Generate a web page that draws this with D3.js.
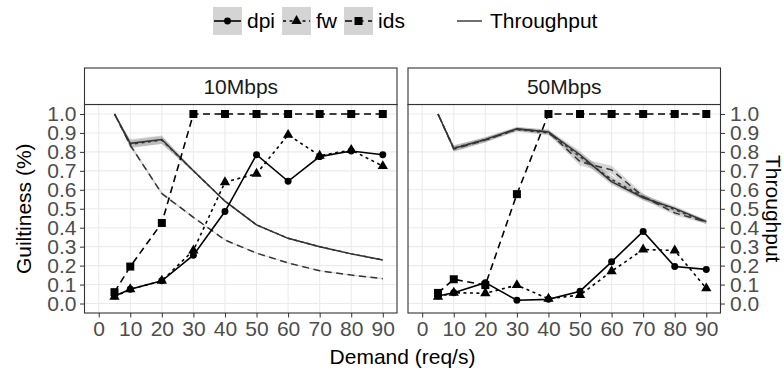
<!DOCTYPE html>
<html>
<head>
<meta charset="utf-8">
<script src="https://cdn.jsdelivr.net/npm/d3@7/dist/d3.min.js"></script>
<style>
  body { margin: 0; background: #fff; }
  text { font-family: "Liberation Sans", Arial, Helvetica, sans-serif; }
</style>
</head>
<body>
<svg id="chart" width="784" height="372"></svg>
<script>
// ---- data ----
const demand = [5, 10, 20, 30, 40, 50, 60, 70, 80, 90];
const xTicks = [0, 10, 20, 30, 40, 50, 60, 70, 80, 90];
const yTicks = [0, 0.1, 0.2, 0.3, 0.4, 0.5, 0.6, 0.7, 0.8, 0.9, 1.0];
const yTickLabels = ["0.0", "0.1", "0.2", "0.3", "0.4", "0.5", "0.6", "0.7", "0.8", "0.9", "1.0"];
const bandwidths = ["10Mbps", "50Mbps"];
const methods = ["dpi", "fw", "ids"];

// guiltiness per method (left axis)
const guilt10Dpi = [0.04, 0.075, 0.12, 0.255, 0.485, 0.785, 0.645, 0.775, 0.805, 0.785];
const guilt10Fw  = [0.035, 0.075, 0.12, 0.28, 0.64, 0.685, 0.89, 0.78, 0.81, 0.725];
const guilt10Ids = [0.06, 0.195, 0.425, 1, 1, 1, 1, 1, 1, 1];
const guilt50Dpi = [0.04, 0.057, 0.11, 0.017, 0.022, 0.065, 0.22, 0.38, 0.195, 0.18];
const guilt50Fw  = [0.035, 0.057, 0.054, 0.097, 0.025, 0.045, 0.17, 0.285, 0.28, 0.08];
const guilt50Ids = [0.056, 0.128, 0.097, 0.577, 1, 1, 1, 1, 1, 1];

// throughput per method (right axis) and its spread
const tput10Dpi = [1.0, 0.845, 0.865, 0.70, 0.54, 0.415, 0.344, 0.30, 0.262, 0.23];
const tput10Fw  = [1.0, 0.84, 0.862, 0.70, 0.54, 0.415, 0.344, 0.30, 0.262, 0.23];
const tput10Ids = [1.0, 0.835, 0.58, 0.455, 0.335, 0.266, 0.214, 0.173, 0.15, 0.131];
const tput50Dpi = [1.0, 0.818, 0.866, 0.922, 0.905, 0.785, 0.643, 0.558, 0.502, 0.432];
const tput50Fw  = [1.0, 0.82, 0.864, 0.918, 0.9, 0.775, 0.655, 0.563, 0.495, 0.43];
const tput50Ids = [1.0, 0.815, 0.862, 0.92, 0.905, 0.748, 0.705, 0.565, 0.478, 0.43];
const spread10Dpi = [0, 0.022, 0.022, 0.006, 0.004, 0.003, 0.003, 0.003, 0.003, 0.003];
const spread10Fw  = [0, 0.02, 0.02, 0.006, 0.004, 0.003, 0.003, 0.003, 0.003, 0.003];
const spread10Ids = [0, 0.01, 0.008, 0.004, 0.003, 0.003, 0.003, 0.003, 0.003, 0.003];
const spread50Dpi = [0, 0.016, 0.012, 0.01, 0.012, 0.02, 0.018, 0.014, 0.012, 0.01];
const spread50Fw  = [0, 0.015, 0.012, 0.01, 0.012, 0.02, 0.02, 0.015, 0.012, 0.01];
const spread50Ids = [0, 0.014, 0.012, 0.01, 0.012, 0.02, 0.022, 0.016, 0.012, 0.01];

const guiltiness = {
  "10Mbps": { dpi: guilt10Dpi, fw: guilt10Fw, ids: guilt10Ids },
  "50Mbps": { dpi: guilt50Dpi, fw: guilt50Fw, ids: guilt50Ids }
};
const throughput = {
  "10Mbps": { dpi: tput10Dpi, fw: tput10Fw, ids: tput10Ids },
  "50Mbps": { dpi: tput50Dpi, fw: tput50Fw, ids: tput50Ids }
};
const spread = {
  "10Mbps": { dpi: spread10Dpi, fw: spread10Fw, ids: spread10Ids },
  "50Mbps": { dpi: spread50Dpi, fw: spread50Fw, ids: spread50Ids }
};

// ---- styling ----
const FONT = 21;
const dashFor = { dpi: null, fw: "3,3.5", ids: "7,4.5" };
const symbolFor = { dpi: d3.symbolCircle, fw: d3.symbolTriangle, ids: d3.symbolSquare };
const symbolSize = { dpi: 38, fw: 46, ids: 64 };

// ---- layout ----
const panelLeft = [84.5, 408];
const panelW = 312.5;
const stripTop = 68, panelTop = 104.5, panelBottom = 313;
const panelH = panelBottom - panelTop;

const x = d3.scaleLinear().domain([-4.5, 94.5]).range([0, panelW]);
const y = d3.scaleLinear().domain([-0.05, 1.05]).range([panelH, 0]);

const svg = d3.select("#chart");
svg.append("rect").attr("width", 784).attr("height", 372).attr("fill", "#fff");

function styleAxis(g) {
  g.select(".domain").remove();
  g.selectAll(".tick line").attr("stroke", "#333").attr("stroke-width", 1);
  g.selectAll(".tick text").attr("fill", "#4D4D4D").style("font-size", FONT + "px")
    .style("font-family", '"Liberation Sans", Arial, sans-serif');
}

bandwidths.forEach((bw, i) => {
  const g = svg.append("g").attr("transform", `translate(${panelLeft[i]},${panelTop})`);

  // grid
  g.append("g").selectAll("line").data(xTicks).join("line")
    .attr("x1", d => x(d)).attr("x2", d => x(d)).attr("y1", 0).attr("y2", panelH)
    .attr("stroke", "#EBEBEB").attr("stroke-width", 1.1);
  g.append("g").selectAll("line").data(yTicks).join("line")
    .attr("y1", d => y(d)).attr("y2", d => y(d)).attr("x1", 0).attr("x2", panelW)
    .attr("stroke", "#EBEBEB").attr("stroke-width", 1.1);

  // throughput ribbons
  methods.forEach(m => {
    const pts = demand.map((d, k) => ({ d, v: throughput[bw][m][k], s: spread[bw][m][k] }));
    g.append("path").datum(pts)
      .attr("d", d3.area().x(p => x(p.d)).y0(p => y(p.v - p.s)).y1(p => y(p.v + p.s)))
      .attr("fill", "#999").attr("fill-opacity", 0.4);
  });
  // throughput lines
  methods.forEach(m => {
    const pts = demand.map((d, k) => ({ d, v: throughput[bw][m][k] }));
    g.append("path").datum(pts)
      .attr("d", d3.line().x(p => x(p.d)).y(p => y(p.v)))
      .attr("fill", "none").attr("stroke", "#333").attr("stroke-width", 1.5)
      .attr("stroke-dasharray", dashFor[m]);
  });
  // guiltiness lines and points
  methods.forEach(m => {
    const pts = demand.map((d, k) => ({ d, v: guiltiness[bw][m][k] }));
    g.append("path").datum(pts)
      .attr("d", d3.line().x(p => x(p.d)).y(p => y(p.v)))
      .attr("fill", "none").attr("stroke", "#000").attr("stroke-width", 1.6)
      .attr("stroke-dasharray", dashFor[m]);
    g.append("g").selectAll("path").data(pts).join("path")
      .attr("transform", p => `translate(${x(p.d)},${y(p.v)})`)
      .attr("d", d3.symbol().type(symbolFor[m]).size(symbolSize[m]))
      .attr("fill", "#000");
  });

  // panel border
  g.append("rect").attr("width", panelW).attr("height", panelH)
    .attr("fill", "none").attr("stroke", "#333").attr("stroke-width", 1.1);

  // strip
  const s = svg.append("g").attr("transform", `translate(${panelLeft[i]},${stripTop})`);
  s.append("rect").attr("width", panelW).attr("height", panelTop - stripTop)
    .attr("fill", "#fff").attr("stroke", "#333").attr("stroke-width", 1.1);
  s.append("text").attr("x", panelW / 2).attr("y", (panelTop - stripTop) / 2).attr("dy", "0.35em")
    .attr("text-anchor", "middle").attr("fill", "#1A1A1A").style("font-size", FONT + "px").text(bw);

  // bottom axis
  svg.append("g").attr("transform", `translate(${panelLeft[i]},${panelBottom})`)
    .call(d3.axisBottom(x).tickValues(xTicks).tickSize(4.5).tickPadding(4).tickFormat(d3.format("d")))
    .call(styleAxis);

  // left axis on first panel, right axis on the last
  if (i === 0) {
    svg.append("g").attr("transform", `translate(${panelLeft[i]},${panelTop})`)
      .call(d3.axisLeft(y).tickValues(yTicks).tickSize(4.5).tickPadding(3.5)
        .tickFormat((d, k) => yTickLabels[k]))
      .call(styleAxis);
  } else {
    svg.append("g").attr("transform", `translate(${panelLeft[i] + panelW},${panelTop})`)
      .call(d3.axisRight(y).tickValues(yTicks).tickSize(4.5).tickPadding(5)
        .tickFormat((d, k) => yTickLabels[k]))
      .call(styleAxis);
  }
});

// axis titles
const midY = (panelTop + panelBottom) / 2;
svg.append("text").attr("transform", `translate(24,${midY}) rotate(-90)`).attr("dy", "0.35em")
  .attr("text-anchor", "middle").attr("fill", "#000").style("font-size", FONT + "px").text("Guiltiness (%)");
svg.append("text").attr("transform", `translate(773,${midY}) rotate(90)`).attr("dy", "0.35em")
  .attr("text-anchor", "middle").attr("fill", "#000").style("font-size", FONT + "px").text("Throughput");
svg.append("text").attr("x", (panelLeft[0] + panelLeft[1] + panelW) / 2).attr("y", 357).attr("dy", "0.35em")
  .attr("text-anchor", "middle").attr("fill", "#000").style("font-size", FONT + "px").text("Demand (req/s)");

// legend
const legend = svg.append("g");
const keyW = 29, keyH = 28, keyY = 7, legendMid = 21;
let lx = 213;
methods.forEach(m => {
  legend.append("rect").attr("x", lx).attr("y", keyY).attr("width", keyW).attr("height", keyH)
    .attr("fill", "#D4D4D4");
  legend.append("line").attr("x1", lx + 1).attr("x2", lx + keyW - 1)
    .attr("y1", legendMid).attr("y2", legendMid)
    .attr("stroke", "#000").attr("stroke-width", 1.6).attr("stroke-dasharray", dashFor[m]);
  legend.append("path").attr("transform", `translate(${lx + keyW / 2},${legendMid})`)
    .attr("d", d3.symbol().type(symbolFor[m]).size(symbolSize[m])).attr("fill", "#000");
  const t = legend.append("text").attr("x", lx + 34).attr("y", legendMid).attr("dy", "0.35em")
    .attr("fill", "#000").style("font-size", FONT + "px").text(m);
  lx = lx + 34 + t.node().getComputedTextLength() + 7;
});
legend.append("line").attr("x1", 457).attr("x2", 482).attr("y1", legendMid).attr("y2", legendMid)
  .attr("stroke", "#333").attr("stroke-width", 1.4);
legend.append("text").attr("x", 490).attr("y", legendMid).attr("dy", "0.35em")
  .attr("fill", "#000").style("font-size", FONT + "px").text("Throughput");
</script>
</body>
</html>
